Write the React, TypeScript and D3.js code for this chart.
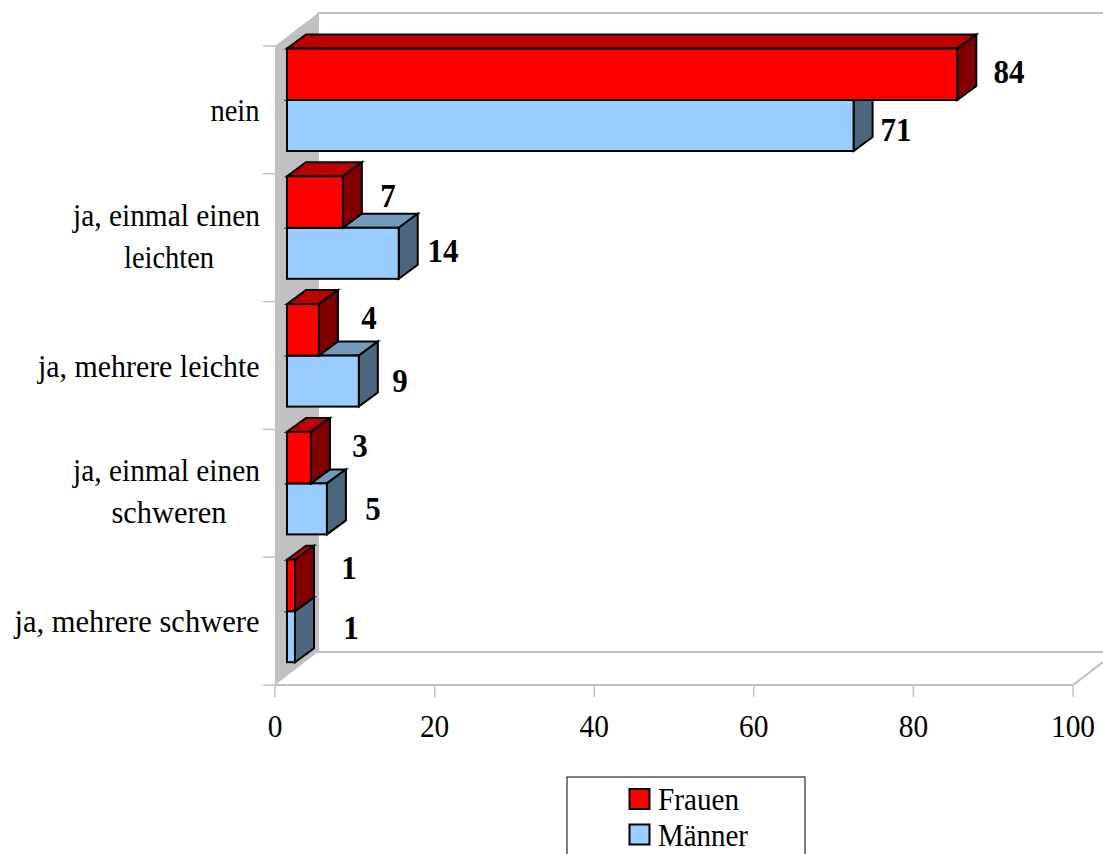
import React from "react";
import * as d3 from "d3";

const categories = ["nein", "ja, einmal einen|leichten", "ja, mehrere leichte", "ja, einmal einen|schweren", "ja, mehrere schwere"];
const frauen = [84, 7, 4, 3, 1];
const maenner = [71, 14, 9, 5, 1];
const xTicks = [0, 20, 40, 60, 80, 100];
const legendNames = ["Frauen", "Männer"];

// Hand placement of the value labels, as the chart's layout engine spaced them.
const frauenLabelPos = [[1009, 72], [388, 196], [369, 318], [360, 446], [349, 568]];
const maennerLabelPos = [[896, 130], [443, 251], [400, 381], [373, 509], [351, 628]];

// Set widths of the condensed serif text lines.
const textWidths: Record<string, number> = {
  nein: 49,
  "ja, einmal einen": 187,
  leichten: 90,
  "ja, mehrere leichte": 221.5,
  schweren: 115,
  "ja, mehrere schwere": 245,
  Frauen: 81,
  "Männer": 90,
};

const W = 1103;
const H = 854;
const FONT = "'Liberation Serif', 'Times New Roman', serif";
const GRID = "#c0c0c0";
const wallDx = 43;
const wallDy = -33;
const barDx = 19;
const barDy = -14;
const digitW = 14.7;
const boldDigitW = 15.5;

const x = d3.scaleLinear().domain([0, 100]).range([275, 1073]);
const y = d3.scaleBand<number>().domain(d3.range(categories.length)).range([46, 685]);
// The bars stand a little in front of the back wall, so their baseline sits right of the axis origin.
const barStart = 287;
const barW = (v: number) => x(v) - x(0);
const poly = d3.line();

type Pt = [number, number];
const pts = (p: Pt[]) => poly(p) + "Z";

function Box({ x0, x1, y0, y1, front, top, side }: { x0: number; x1: number; y0: number; y1: number; front: string; top: string; side: string }) {
  const common = { stroke: "#000", strokeWidth: 2, strokeLinejoin: "miter" as const };
  return (
    <g>
      <path d={pts([[x0, y0], [x0 + barDx, y0 + barDy], [x1 + barDx, y0 + barDy], [x1, y0]])} fill={top} {...common} />
      <path d={pts([[x1, y0], [x1 + barDx, y0 + barDy], [x1 + barDx, y1 + barDy], [x1, y1]])} fill={side} {...common} />
      <rect x={x0} y={y0} width={x1 - x0} height={y1 - y0} fill={front} {...common} />
    </g>
  );
}

export default function App() {
  const redTop = (i: number) => y(i)! + 2.5;
  const mid = (i: number) => y(i)! + 54;
  const blueBottom = (i: number) => y(i)! + 105;
  const labelStyle = { fontFamily: FONT, fontSize: 32, fill: "#000", lengthAdjust: "spacingAndGlyphs" as const };
  const boldStyle = { fontFamily: FONT, fontSize: 34, fontWeight: "bold" as const, fill: "#000", lengthAdjust: "spacingAndGlyphs" as const, textAnchor: "middle" as const };

  return (
    <svg width={W} height={H} viewBox={`0 0 ${W} ${H}`} style={{ position: "absolute", left: 0, top: 0, display: "block", background: "#fff" }}>
      {/* side wall and floor */}
      <path d={pts([[275, 46], [275 + wallDx, 46 + wallDy], [275 + wallDx, 685 + wallDy], [275, 685]])} fill={GRID} />
      <path d={poly([[318, 13], [W, 13]])!} stroke={GRID} strokeWidth={2} fill="none" />
      <path d={poly([[318, 13], [318, 652], [W, 652]])!} stroke={GRID} strokeWidth={2} fill="none" />
      <path d={poly([[275, 685], [1073, 685], [1103, 662]])!} stroke={GRID} strokeWidth={2} fill="none" />

      {/* category ticks */}
      {d3.range(categories.length + 1).map((i) => {
        const ty = i < categories.length ? y(i)! : 685;
        return <line key={i} x1={263} x2={275} y1={ty} y2={ty} stroke={GRID} strokeWidth={1.5} />;
      })}
      {/* value axis */}
      {xTicks.map((t) => (
        <g key={t}>
          <line x1={x(t)} x2={x(t)} y1={685} y2={697} stroke={GRID} strokeWidth={1.5} />
          <text x={x(t)} y={737} textAnchor="middle" textLength={String(t).length * digitW} {...labelStyle}>{t}</text>
        </g>
      ))}

      {/* category labels, two-line ones centred under each other */}
      {categories.map((c, i) => {
        const lines = c.split("|");
        const cy = y(i)! + y.bandwidth() / 2;
        if (lines.length === 1) {
          return <text key={c} x={259.5} y={cy + 11} textAnchor="end" textLength={textWidths[c]} {...labelStyle}>{c}</text>;
        }
        return (
          <g key={c}>
            <text x={260} y={cy - 12} textAnchor="end" textLength={textWidths[lines[0]]} {...labelStyle}>{lines[0]}</text>
            <text x={169} y={cy + 30} textAnchor="middle" textLength={textWidths[lines[1]]} {...labelStyle}>{lines[1]}</text>
          </g>
        );
      })}

      {/* bars: Männer first so each Frauen block overlaps it */}
      {categories.map((c, i) => (
        <g key={c}>
          <Box x0={barStart} x1={barStart + barW(maenner[i])} y0={mid(i)} y1={blueBottom(i)} front="#99ccff" top="#7399bf" side="#4d6680" />
          <Box x0={barStart} x1={barStart + barW(frauen[i])} y0={redTop(i)} y1={mid(i)} front="#ff0000" top="#bf0000" side="#800000" />
        </g>
      ))}

      {/* value labels */}
      {frauen.map((v, i) => (
        <text key={"f" + i} x={frauenLabelPos[i][0]} y={frauenLabelPos[i][1] + 10.5} textLength={String(v).length * boldDigitW} {...boldStyle}>{v}</text>
      ))}
      {maenner.map((v, i) => (
        <text key={"m" + i} x={maennerLabelPos[i][0]} y={maennerLabelPos[i][1] + 10.5} textLength={String(v).length * boldDigitW} {...boldStyle}>{v}</text>
      ))}

      {/* legend, running off the lower edge */}
      <rect x={567} y={777} width={238} height={100} fill="#fff" stroke="#000" strokeWidth={1} />
      {legendNames.map((n, i) => {
        const sy = 789 + i * 35.5;
        return (
          <g key={n}>
            <rect x={629.5} y={sy} width={20} height={20} fill={i === 0 ? "#ff0000" : "#99ccff"} stroke="#000" strokeWidth={2} />
            <text x={658} y={sy + 21} textLength={textWidths[n]} {...labelStyle}>{n}</text>
          </g>
        );
      })}
    </svg>
  );
}
